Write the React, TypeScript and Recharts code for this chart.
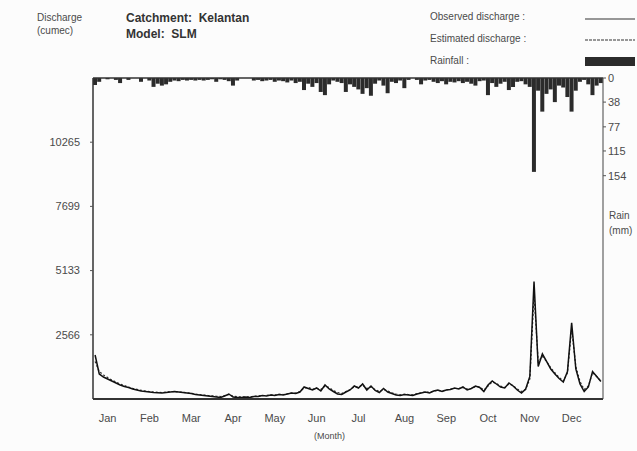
import React from "react";
import { ComposedChart, Bar, Line, XAxis, YAxis, ReferenceLine } from "recharts";

// 3-day steps through the year (index 0..121)
const observedDischarge = [
  1760, 1000, 880, 800, 720, 640, 560, 500, 460, 400, 360, 320, 300, 280, 260, 250, 240, 260, 280, 300,
  280, 260, 240, 220, 180, 160, 140, 120, 100, 80, 60, 120, 200, 80, 60, 60, 80, 60, 100, 100,
  140, 120, 160, 140, 180, 160, 200, 240, 220, 280, 480, 420, 360, 440, 320, 560, 400, 300, 200, 180,
  280, 360, 520, 440, 600, 360, 520, 340, 260, 420, 280, 220, 160, 140, 180, 160, 140, 200, 240, 280,
  240, 320, 360, 300, 360, 380, 440, 400, 480, 360, 420, 520, 460, 300, 560, 720, 600, 480, 440, 640,
  520, 360, 240, 400, 900, 4700, 1300, 1800, 1500, 1200, 1000, 820, 680, 1100, 3050, 1200, 600, 300, 480, 1100,
  900, 700,
];

const estimatedDischarge = [
  1500, 1100, 960, 860, 760, 680, 600, 540, 480, 430, 390, 350, 320, 300, 280, 270, 260, 280, 300, 290,
  280, 270, 250, 230, 200, 180, 160, 140, 130, 110, 100, 140, 180, 110, 90, 80, 90, 80, 110, 120,
  140, 140, 170, 160, 190, 180, 210, 240, 240, 300, 440, 460, 400, 420, 380, 520, 460, 340, 260, 220,
  300, 380, 480, 480, 560, 420, 480, 380, 300, 380, 320, 250, 200, 170, 190, 180, 170, 210, 250, 280,
  260, 320, 340, 320, 360, 400, 420, 420, 460, 400, 420, 500, 480, 360, 520, 680, 620, 520, 460, 600,
  540, 400, 300, 380, 800, 4200, 1500, 1700, 1500, 1250, 1050, 860, 720, 1050, 2800, 1300, 700, 380, 520, 1050,
  900, 720,
];

const rainfall = [
  11, 6, 0, 2, 0, 3, 8, 0, 3, 0, 0, 6, 0, 4, 14, 9, 12, 10, 6, 4,
  5, 3, 4, 3, 4, 3, 4, 3, 2, 6, 2, 3, 5, 12, 4, 0, 0, 0, 4, 3,
  5, 4, 3, 6, 4, 5, 7, 4, 8, 6, 19, 9, 14, 8, 22, 27, 10, 4, 6, 8,
  22, 10, 14, 18, 25, 16, 28, 9, 4, 12, 24, 6, 8, 4, 16, 3, 0, 3, 10, 4,
  3, 6, 8, 5, 10, 6, 7, 5, 8, 6, 9, 12, 5, 4, 27, 8, 14, 9, 6, 19,
  14, 6, 5, 10, 14, 148, 20, 53, 25, 18, 38, 12, 15, 30, 53, 20, 6, 3, 10, 27,
  12, 8,
];

const months = ["Jan", "Feb", "Mar", "Apr", "May", "Jun", "Jul", "Aug", "Sep", "Oct", "Nov", "Dec"];
const monthStartDay = [0, 31, 59, 90, 120, 151, 181, 212, 243, 273, 304, 334];
const dischargeTicks = [2566, 5133, 7699, 10265];
const dischargeMax = 12831;
const rainTicks = [0, 38, 77, 115, 154];
const rainMax = 506;

const data = observedDischarge.map((o, i) => ({
  i,
  observed: o,
  estimated: estimatedDischarge[i],
  rain: rainfall[i],
}));

const monthTickIdx = monthStartDay.map((d) => Math.round((d + 9) / 3));
const monthByIdx: Record<number, string> = {};
monthTickIdx.forEach((t, k) => (monthByIdx[t] = months[k]));

const FONT = "'Liberation Sans', Arial, sans-serif";
const TXT = "#4a4a4a";

export default function App() {
  return (
    <div style={{ position: "absolute", left: 0, top: 0, width: 637, height: 451, background: "#fcfcfc", fontFamily: FONT }}>
      <ComposedChart width={637} height={451} data={data} margin={{ top: 78, right: 0, bottom: 22, left: 0 }} barCategoryGap={0}>
        <XAxis
          dataKey="i"
          type="category"
          ticks={monthTickIdx}
          interval={0}
          tickFormatter={(v) => monthByIdx[v as number] || ""}
          tickLine={false}
          axisLine={{ stroke: "#333", strokeWidth: 2 }}
          tick={{ fill: TXT, fontSize: 11, fontFamily: FONT }}
          tickMargin={9}
          height={30}
        />
        <YAxis
          yAxisId="q"
          orientation="left"
          width={93}
          domain={[0, dischargeMax]}
          ticks={dischargeTicks}
          interval={0}
          tickSize={3}
          tickMargin={10}
          axisLine={{ stroke: "#333", strokeWidth: 1.5 }}
          tickLine={{ stroke: "#555" }}
          tick={{ fill: TXT, fontSize: 11, fontFamily: FONT }}
          allowDataOverflow
        />
        <YAxis
          yAxisId="rain"
          orientation="right"
          width={34}
          reversed
          domain={[0, rainMax]}
          ticks={rainTicks}
          interval={0}
          tickSize={3}
          tickMargin={2}
          axisLine={{ stroke: "#444", strokeWidth: 1 }}
          tickLine={{ stroke: "#555" }}
          tick={{ fill: TXT, fontSize: 11, fontFamily: FONT }}
          allowDataOverflow
        />
        <ReferenceLine yAxisId="rain" y={0} stroke="#333" strokeWidth={1.5} />
        <Bar yAxisId="rain" dataKey="rain" fill="#2b2b2b" barSize={4} isAnimationActive={false} />
        <Line
          yAxisId="q"
          type="linear"
          dataKey="estimated"
          stroke="#333"
          strokeWidth={1.2}
          strokeDasharray="2 2"
          dot={false}
          isAnimationActive={false}
        />
        <Line
          yAxisId="q"
          type="linear"
          dataKey="observed"
          stroke="#111"
          strokeWidth={1.5}
          dot={false}
          isAnimationActive={false}
        />
      </ComposedChart>

      <div style={{ position: "absolute", left: 37, top: 11, fontSize: 10, color: TXT, lineHeight: "13px" }}>
        Discharge
        <br />
        (cumec)
      </div>
      <div style={{ position: "absolute", left: 126, top: 10, fontSize: 12, fontWeight: "bold", color: "#333", lineHeight: "16px" }}>
        Catchment:&nbsp;&nbsp;Kelantan
        <br />
        Model:&nbsp;&nbsp;SLM
      </div>

      <div style={{ position: "absolute", left: 430, top: 6, fontSize: 10, color: TXT, lineHeight: "22px" }}>
        <div>Observed discharge :</div>
        <div>Estimated discharge :</div>
        <div>Rainfall :</div>
      </div>
      <svg style={{ position: "absolute", left: 585, top: 6 }} width={52} height={66}>
        <line x1={0} y1={13} x2={50} y2={13} stroke="#333" strokeWidth={1.2} />
        <line x1={0} y1={34} x2={50} y2={34} stroke="#333" strokeWidth={1.2} strokeDasharray="3 1" />
        <rect x={0} y={51} width={50} height={9} fill="#2b2b2b" />
      </svg>

      <div style={{ position: "absolute", left: 609, top: 208, fontSize: 10, color: TXT, lineHeight: "15px" }}>
        Rain
        <br />
        (mm)
      </div>
      <div style={{ position: "absolute", left: 314, top: 431, fontSize: 9, color: TXT }}>(Month)</div>
    </div>
  );
}
